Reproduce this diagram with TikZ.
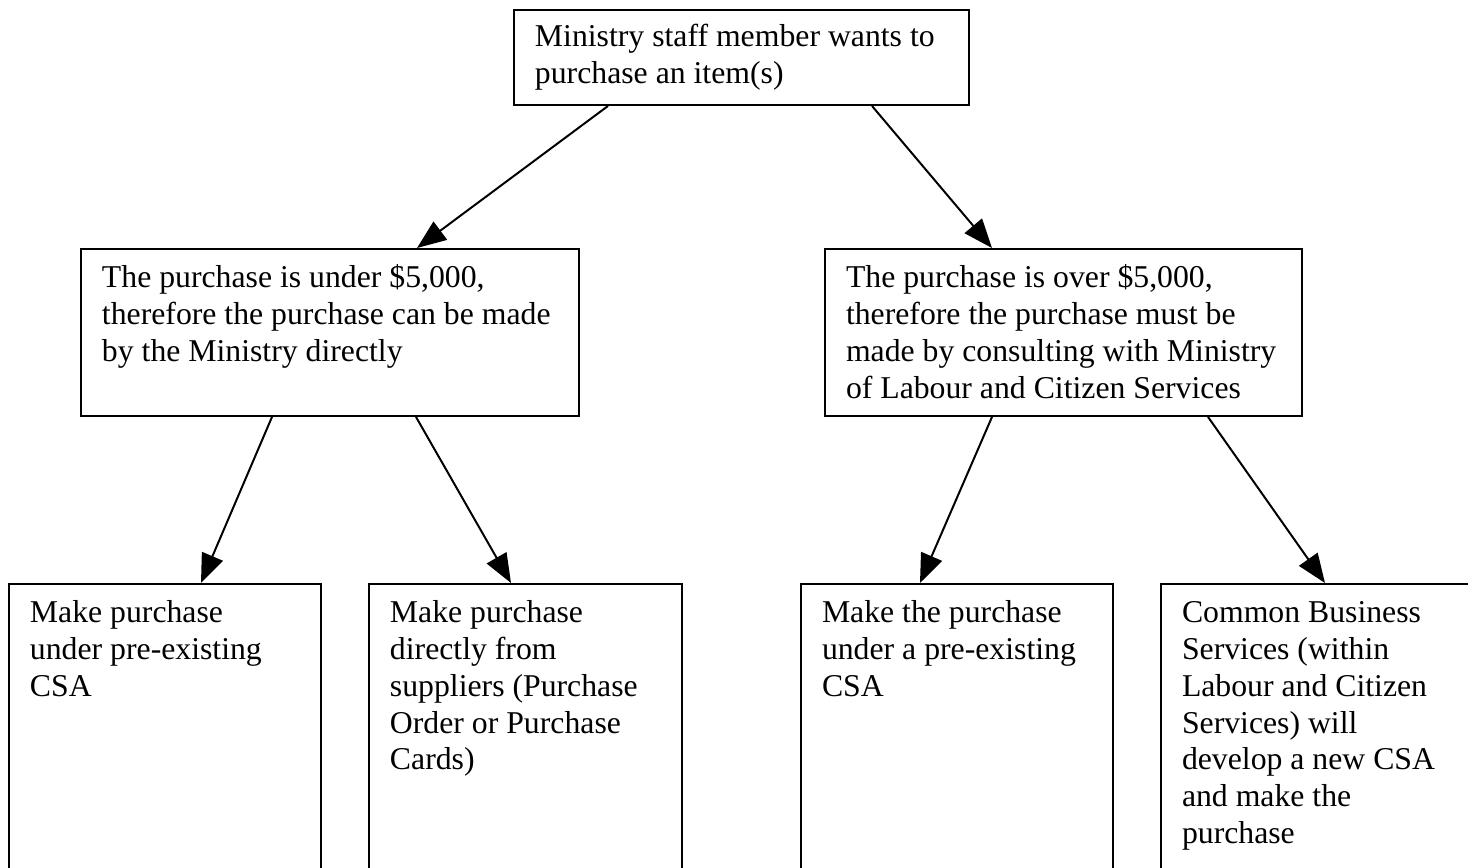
\documentclass[tikz,border=0pt]{standalone}
\usepackage{fontspec}
\setmainfont{Liberation Serif}
\usetikzlibrary{arrows.meta}
\newlength{\px}
\setlength{\px}{0.378pt}
\tikzset{
	box/.style={
			draw,
			line width=0.75pt,
			anchor=north west,
			align=flush left,
			inner xsep=21\px,
			inner ysep=5pt,
			text height=9.7pt,
			font=\fontsize{12}{13.9}\selectfont,
		},
	flow/.style={-{Triangle[length=11pt, width=8.5pt]}, line width=0.75pt},
}

\begin{document}
\begin{tikzpicture}[x=\px, y=-\px]
		\useasboundingbox (0,0) rectangle (1468,867);
		\clip (0,0) rectangle (1468,867);

		\node [box, inner ysep=4pt, text width=413\px, text depth=18.2pt] (want) at (513,9)
			{Ministry staff member wants to\\purchase an item(s)};

		\node [box, text width=456\px, text depth=43.4pt] (under) at (80,248)
			{The purchase is under \$5,000,\\therefore the purchase can be made\\by the Ministry directly};
		\node [box, text width=435\px, text depth=43.4pt] (over) at (824,248)
			{The purchase is over \$5,000,\\therefore the purchase must be\\made by consulting with Ministry\\of Labour and Citizen Services};

		\node [box, text width=270\px, text depth=100pt] (csaold) at (8,583)
			{Make purchase\\under pre-existing\\CSA};
		\node [box, text width=271\px, text depth=100pt] (direct) at (368,583)
			{Make purchase\\directly from\\suppliers (Purchase\\Order or Purchase\\Cards)};
		\node [box, text width=270\px, text depth=100pt] (csaover) at (800,583)
			{Make the purchase\\under a pre-existing\\CSA};
		\node [box, text width=298\px, text depth=100pt] (csanew) at (1160,583)
			{Common Business\\Services (within\\Labour and Citizen\\Services) will\\develop a new CSA\\and make the\\purchase};

		\draw [flow] ([xshift=95\px]want.south west) -- ([xshift=337\px]under.north west);
		\draw [flow] ([xshift=359\px]want.south west) -- ([xshift=168\px]over.north west);
		\draw [flow] ([xshift=192\px]under.south west) -- ([xshift=193\px]csaold.north west);
		\draw [flow] ([xshift=336\px]under.south west) -- ([xshift=143\px]direct.north west);
		\draw [flow] ([xshift=168\px]over.south west) -- ([xshift=120\px]csaover.north west);
		\draw [flow] ([xshift=384\px]over.south west) -- ([xshift=165\px]csanew.north west);
	\end{tikzpicture}
\end{document}
